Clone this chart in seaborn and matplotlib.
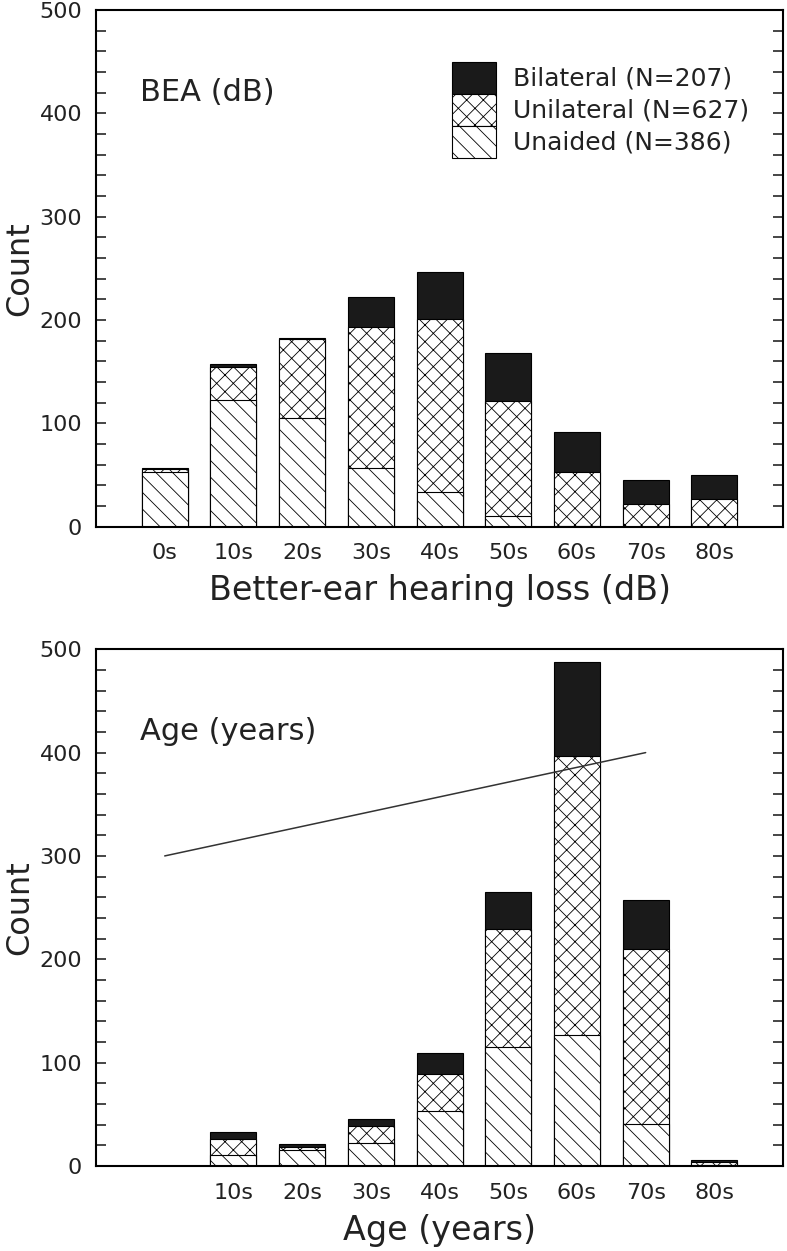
import matplotlib
matplotlib.use('Agg')
import matplotlib.pyplot as plt
from matplotlib.patches import Patch
from matplotlib.ticker import MultipleLocator
import seaborn as sns
import pandas as pd

# Decade bins (same slots on both panels)
bins = ['0s', '10s', '20s', '30s', '40s', '50s', '60s', '70s', '80s']
age_tick_labels = ['', '10s', '20s', '30s', '40s', '50s', '60s', '70s', '80s']

# Better-ear hearing loss counts
bea_unaided = [53, 123, 105, 57, 34, 10, 1, 0, 0]
bea_unilateral = [3, 32, 77, 136, 167, 112, 52, 22, 27]
bea_bilateral = [1, 2, 1, 29, 45, 46, 39, 23, 23]

# Age counts (no one in the 0s slot)
age_bins = ['10s', '20s', '30s', '40s', '50s', '60s', '70s', '80s']
age_unaided = [11, 15, 22, 53, 115, 127, 41, 1]
age_unilateral = [15, 3, 17, 36, 114, 270, 169, 3]
age_bilateral = [7, 3, 6, 20, 36, 91, 47, 2]

# straight line drawn across the age panel
line_bins = ['0s', '70s']
line_counts = [300, 400]

legend_labels = ['Bilateral (N=207)', 'Unilateral (N=627)', 'Unaided (N=386)']

sns.set_style('white')
plt.rcParams['font.family'] = ['DejaVu Sans']
plt.rcParams['hatch.linewidth'] = 0.6
txt = '#222222'
dark = '#1a1a1a'


def stacked_bars(ax, cats, unaided, unilateral, bilateral):
    df = pd.DataFrame({'bin': cats, 'unaided': unaided,
                       'unilateral': unilateral, 'bilateral': bilateral})
    df['mid'] = df['unaided'] + df['unilateral']
    df['total'] = df['mid'] + df['bilateral']
    common = dict(data=df, x='bin', order=bins, width=0.67, saturation=1,
                  edgecolor='black', linewidth=0.8, ax=ax)
    sns.barplot(y='total', color=dark, **common)
    sns.barplot(y='mid', color='white', hatch='xx', **common)
    sns.barplot(y='unaided', color='white', hatch='\\\\', **common)


def style_axes(ax, xlabel, title, ticklabels):
    ax.set_xlim(-1, 9)
    ax.set_ylim(0, 500)
    ax.yaxis.set_major_locator(MultipleLocator(100))
    ax.yaxis.set_minor_locator(MultipleLocator(20))
    ax.tick_params(axis='y', which='both', direction='in', left=True, right=True,
                   length=7, width=1.2, labelsize=16, labelcolor=txt, pad=10)
    ax.tick_params(axis='x', length=0, labelsize=16, labelcolor=txt, pad=12)
    ax.set_xticks(range(len(bins)), ticklabels)
    ax.set_xlabel(xlabel, fontsize=24, color=txt, labelpad=8)
    ax.set_ylabel('Count', fontsize=23, color=txt, labelpad=3)
    for s in ax.spines.values():
        s.set_visible(True)
        s.set_color('black')
        s.set_linewidth(1.5)
    ax.text(-0.36, 420, title, fontsize=22, color=txt, va='center', ha='left')


fig = plt.figure(figsize=(7.87, 12.51), dpi=100)
ax1 = fig.add_axes([0.122, 0.579, 0.873, 0.413])
ax2 = fig.add_axes([0.122, 0.068, 0.873, 0.413])

stacked_bars(ax1, bins, bea_unaided, bea_unilateral, bea_bilateral)
style_axes(ax1, 'Better-ear hearing loss (dB)', 'BEA (dB)', bins)

handles = [Patch(facecolor=dark, edgecolor='black', linewidth=0.8),
           Patch(facecolor='white', edgecolor='black', hatch='xx', linewidth=0.8),
           Patch(facecolor='white', edgecolor='black', hatch='\\\\', linewidth=0.8)]
ax1.legend(handles, legend_labels, loc='upper left', bbox_to_anchor=(0.518, 0.9),
           frameon=False, fontsize=18, labelcolor=txt, handlelength=1.76,
           handleheight=1.59, labelspacing=0, handletextpad=0.7,
           borderpad=0, borderaxespad=0)

stacked_bars(ax2, age_bins, age_unaided, age_unilateral, age_bilateral)
style_axes(ax2, 'Age (years)', 'Age (years)', age_tick_labels)
line_pos = [bins.index(b) for b in line_bins]
ax2.plot(line_pos, line_counts, color='#333333', linewidth=1.1)

fig.savefig('out.png', dpi=100)
